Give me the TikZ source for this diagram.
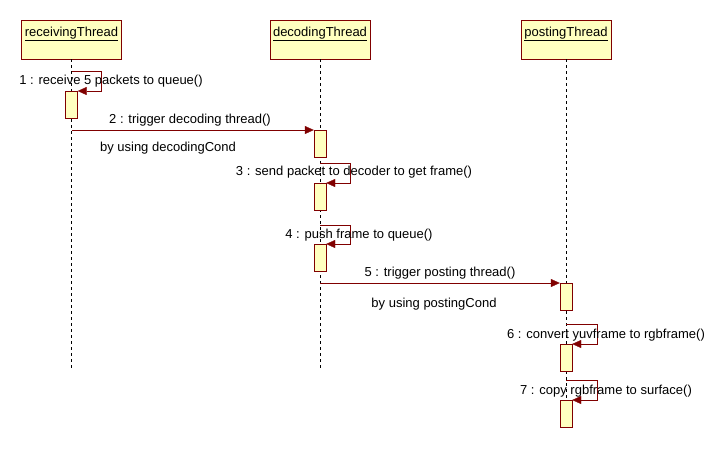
\documentclass[tikz,border=0pt]{standalone}
\usepackage{fontspec}
\setmainfont{Liberation Sans}
\usepackage{tikz}
\usetikzlibrary{calc,arrows.meta,positioning}
\definecolor{umlred}{RGB}{128,0,0}
\definecolor{umlyellow}{RGB}{255,255,192}

\begin{document}
\begin{tikzpicture}[x=1pt,y=-1pt]

\tikzset{thread/.style={draw=umlred,fill=umlyellow,minimum width=100pt,inner sep=0pt,anchor=north,font=\fontsize{13}{15}\selectfont,text height=16pt,text depth=23pt},
activation/.style={draw=umlred,fill=umlyellow,minimum width=12pt,minimum height=27pt,inner sep=0pt,anchor=north},
lifeline/.style={dash pattern=on 3pt off 3pt,thin},
msg/.style={draw=umlred,-{Triangle[length=9pt,width=8pt]}},
msglabel/.style={font=\fontsize{13}{15}\selectfont,inner sep=0pt}}

\useasboundingbox (0,0) rectangle (726,448);

% Threads
\node[thread] (recv) at (71.5,20) {\underline{receivingThread}};
\node[thread] (dec) at (320,20) {\underline{decodingThread}};
\node[thread,minimum width=90pt] (post) at (566,20) {\underline{postingThread}};

% Lifelines
\coordinate (recvEnd) at (71.5,370);
\coordinate (decEnd) at (320,370);
\coordinate (postEnd) at (566,428);
\draw[lifeline] (recv.south) -- (recvEnd);
\draw[lifeline] (dec.south) -- (decEnd);
\draw[lifeline] (post.south) -- (postEnd);

% Activations
\node[activation] (ra1) at (71.5,91) {};
\node[activation] (da1) at (320,130) {};
\node[activation] (da2) at (320,183) {};
\node[activation] (da3) at (320,244) {};
\node[activation] (pa1) at (566,283) {};
\node[activation] (pa2) at (566,344) {};
\node[activation] (pa3) at (566,400) {};

% Messages
\coordinate (m1) at (71.5,71);
\draw[msg] (m1) -- ++(30,0) |- (ra1.north east);
\node[msglabel] at (111,81) {1 : receive 5 packets to queue()};

\coordinate (m2) at (71.5,130);
\draw[msg] (m2) -- (da1.north west);
\node[msglabel] at (190,120) {2 : trigger decoding thread()};
\node[msglabel] at (168,148) {by using decodingCond};

\coordinate (m3) at (320,163);
\draw[msg] (m3) -- ++(30,0) |- (da2.north east);
\node[msglabel] at (354,172) {3 : send packet to decoder to get frame()};

\coordinate (m4) at (320,225);
\draw[msg] (m4) -- ++(30,0) |- (da3.north east);
\node[msglabel] at (359,235) {4 : push frame to queue()};

\coordinate (m5) at (320,283);
\draw[msg] (m5) -- (pa1.north west);
\node[msglabel] at (440,273) {5 : trigger posting thread()};
\node[msglabel] at (434,304) {by using postingCond};

\coordinate (m6) at (566,324);
\draw[msg] (m6) -- ++(31,0) |- (pa2.north east);
\node[msglabel] at (606,335) {6 : convert yuvframe to rgbframe()};

\coordinate (m7) at (566,380);
\draw[msg] (m7) -- ++(31,0) |- (pa3.north east);
\node[msglabel] at (606,391) {7 : copy rgbframe to surface()};

\end{tikzpicture}
\end{document}
